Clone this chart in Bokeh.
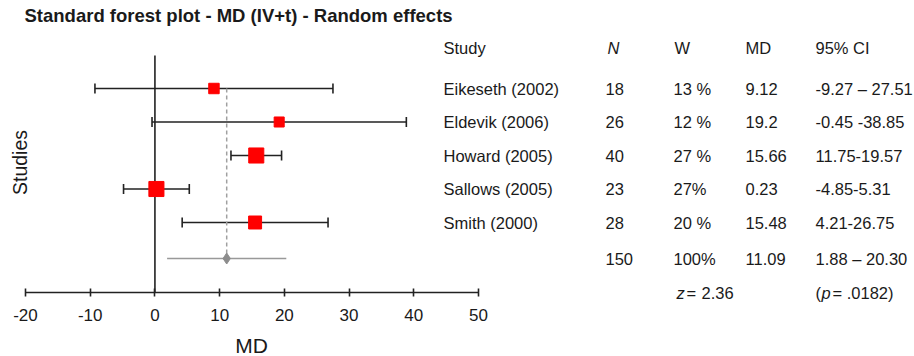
from math import pi, sqrt
from bokeh.plotting import figure
from bokeh.models import (ColumnDataSource, Range1d, LinearAxis, FixedTicker,
                          Whisker, TeeHead, Label)
from bokeh.core.properties import value
from bokeh.embed import file_html
from bokeh.resources import INLINE

# ---------------- data ----------------
studies = ["Eikeseth (2002)", "Eldevik (2006)", "Howard (2005)", "Sallows (2005)", "Smith (2000)"]
n_vals = [18, 26, 40, 23, 28]
w_vals = [13, 12, 27, 27, 20]
w_labels = ["13 %", "12 %", "27 %", "27%", "20 %"]
md_vals = [9.12, 19.2, 15.66, 0.23, 15.48]
md_labels = ["9.12", "19.2", "15.66", "0.23", "15.48"]
ci_lo = [-9.27, -0.45, 11.75, -4.85, 4.21]
ci_hi = [27.51, 38.85, 19.57, 5.31, 26.75]
ci_labels = ["-9.27 \u2013 27.51", "-0.45 -38.85", "11.75-19.57", "-4.85-5.31", "4.21-26.75"]

pooled_n = 150
pooled_w_label = "100%"
pooled_md = 11.09
pooled_lo = 1.88
pooled_hi = 20.30
pooled_ci_label = "1.88 \u2013 20.30"
z_value = "2.36"
p_value = ".0182"

x_ticks = [-20, -10, 0, 10, 20, 30, 40, 50]

# ---------------- layout helpers ----------------
W, H = 914, 356
AXIS_PY = 292
scale = 453 / 70.0                      # px per MD unit
XS = -20 - 25 / scale
XE = XS + W / scale
ROW0, ROWSTEP = 88, 33.5


def px2x(px):
    return XS + px / scale


def py2y(py):
    return (py - ROW0) / ROWSTEP + 1


FONT = "Liberation Sans"
TXT = "#1a1a1a"
FS = "16.5px"
LINE = "#222222"

rows = list(range(1, len(studies) + 1))
pooled_row = py2y(258)

p = figure(width=W, height=H, output_backend="svg", toolbar_location=None,
           x_range=Range1d(XS, XE), y_range=Range1d(py2y(H), py2y(0)),
           x_axis_location=None, y_axis_location=None,
           min_border_left=0, min_border_right=0, min_border_top=0,
           min_border_bottom=0)
p.outline_line_color = None
p.xgrid.visible = False
p.ygrid.visible = False
p.background_fill_color = "white"
p.border_fill_color = "white"

# x axis
ax = LinearAxis(bounds=(-20, 50), ticker=FixedTicker(ticks=x_ticks),
                fixed_location=py2y(AXIS_PY),
                major_label_overrides={t: str(t) for t in x_ticks})
ax.axis_line_color = LINE
ax.axis_line_width = 1.6
ax.major_tick_line_color = LINE
ax.major_tick_line_width = 1.6
ax.major_tick_in = 4
ax.major_tick_out = 4
ax.minor_tick_line_color = None
ax.major_label_text_font = FONT
ax.major_label_text_font_size = "17px"
ax.major_label_text_color = TXT
ax.major_label_standoff = 12
p.add_layout(ax, "below")

# zero line
p.segment(x0=[0], y0=[py2y(55)], x1=[0], y1=[py2y(AXIS_PY)], line_color=LINE, line_width=1.6)
# pooled dashed line
p.segment(x0=[pooled_md], y0=[rows[0]], x1=[pooled_md], y1=[pooled_row],
          line_color="#a0a0a0", line_width=1.5, line_dash="4 3")

src = ColumnDataSource(dict(y=rows, md=md_vals, lo=ci_lo, hi=ci_hi,
                            size=[2.9 * sqrt(w) for w in w_vals]))
wh = Whisker(source=src, base="y", lower="lo", upper="hi", dimension="width",
             line_color=LINE, line_width=1.6,
             lower_head=TeeHead(size=10, line_color=LINE, line_width=1.6),
             upper_head=TeeHead(size=10, line_color=LINE, line_width=1.6))
p.add_layout(wh)
p.scatter(x="md", y="y", size="size", marker="square", source=src,
          fill_color="#ff0000", line_color="#ff0000")

# pooled estimate
p.segment(x0=[pooled_lo], y0=[pooled_row], x1=[pooled_hi], y1=[pooled_row],
          line_color="#999999", line_width=1.5)
p.scatter(x=[pooled_md], y=[pooled_row], marker="diamond", size=11,
          fill_color="#8c8c8c", line_color="#8c8c8c")

# table
col_px = {"study": 443, "n": 605, "w": 673, "md": 745, "ci": 815}
tab_y = rows + [pooled_row]
tsrc = ColumnDataSource(dict(
    y=tab_y,
    study=studies + [""],
    n=[str(v) for v in n_vals] + [str(pooled_n)],
    w=w_labels + [pooled_w_label],
    md=md_labels + ["%.2f" % pooled_md],
    ci=ci_labels + [pooled_ci_label],
))
for key, px in col_px.items():
    p.text(x=px2x(px), y="y", text=key, source=tsrc, text_font=value(FONT),
           text_font_size=FS, text_color=TXT, text_align="left", text_baseline="middle")


def lab(px, py, text, style="normal", size=FS, **kw):
    p.add_layout(Label(x=px2x(px), y=py2y(py), text=text, text_font=FONT,
                       text_font_size=size, text_font_style=style, text_color=TXT,
                       text_baseline="middle", **kw))


hy = 47
lab(col_px["study"], hy, "Study")
lab(col_px["n"] + 2, hy, "N", "italic")
lab(col_px["w"] + 1, hy, "W")
lab(col_px["md"], hy, "MD")
lab(col_px["ci"], hy, "95% CI")

zy = 292
lab(676, zy, "z", "italic")
lab(686, zy, "=")
lab(701, zy, z_value)
lab(815, zy, "(")
lab(821, zy, "p", "italic")
lab(832, zy, "= " + p_value + ")")

lab(24, 15, "Standard forest plot - MD (IV+t) - Random effects", "bold", "18.5px")
lab(19, 162, "Studies", size="19.5px", angle=pi / 2, text_align="center")
lab(251, 345, "MD", size="21px", text_align="center")

open("out.html", "w").write(file_html(p, INLINE))
